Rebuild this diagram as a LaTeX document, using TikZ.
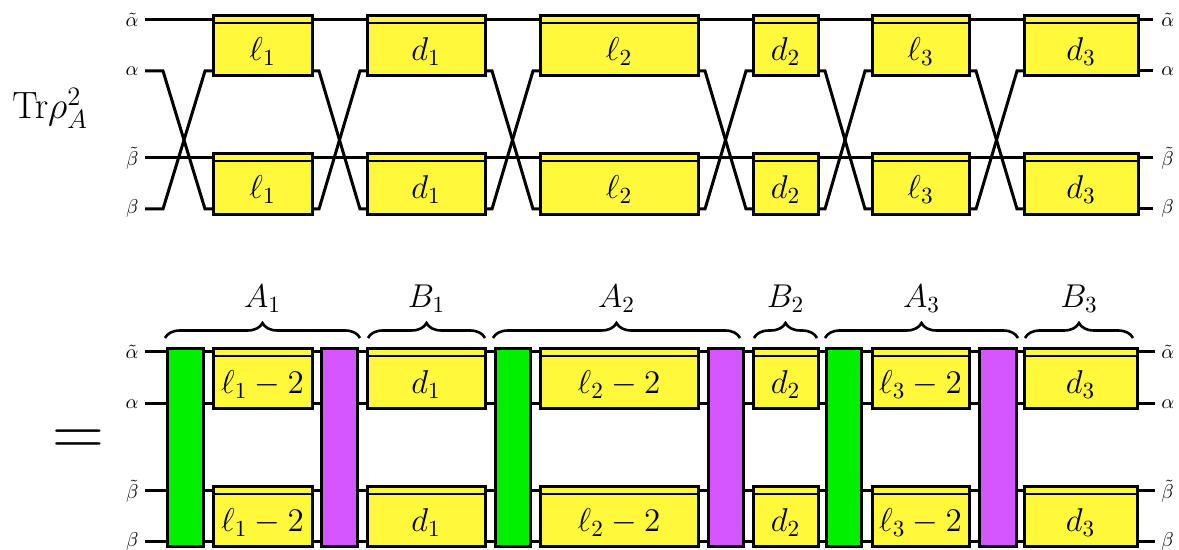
\documentclass[tikz,border=0pt]{standalone}
\usepackage{fix-cm}
\usepackage{graphicx}
\usetikzlibrary{decorations.pathreplacing}
\definecolor{yel}{RGB}{255,248,59}
\definecolor{grn}{RGB}{0,240,0}
\definecolor{prp}{RGB}{213,85,255}
\tikzset{
  wire/.style={line width=1.5pt},
  boxline/.style={draw=black,fill=yel,line width=1.5pt},
  sepline/.style={line width=1pt},
  barG/.style={draw=black,fill=grn,line width=1.5pt},
  barP/.style={draw=black,fill=prp,line width=1.5pt},
  lab/.style={inner sep=0pt,anchor=base,font=\fontsize{16.5}{18}\selectfont},
  wlab/.style={inner sep=0pt,font=\fontsize{10}{12}\selectfont},
  brc/.style={decorate,decoration={brace,amplitude=7.5pt},line width=1.3pt},
}
\newcommand\ybox[6]{%
  \draw[boxline] (#2,#4) rectangle (#3,#5);
  \draw[sepline] (#2,{#4+7.5}) -- (#3,{#4+7.5});
  \node[lab] (#1) at ({(#2+#3)/2},{#4+44.5}) {$#6$};
}
\begin{document}
\begin{tikzpicture}[x=0.5pt,y=-0.5pt]
\useasboundingbox (0,0) rectangle (1179,550);

% ---------- top panel ----------
\node[inner sep=0pt,anchor=base west,font=\fontsize{19}{21}\selectfont] (tr) at (12,119)
  {$\mathrm{Tr}\rho_A^2$};
\foreach \y/\t/\n in {20/\tilde\alpha/ta, 71/\alpha/a, 158/\tilde\beta/tb, 209/\beta/b}{
  \node[wlab,anchor=east] (L\n) at (139,\y) {$\t$};
  \node[wlab,anchor=west] (R\n) at (1161,\y) {$\t$};
}
\draw[wire] (145,20) -- (1153,20);
\draw[wire] (145,158) -- (1153,158);
% crossings
\draw[wire] (145,71) -- (163,71) -- (205,209) -- (213,209);
\draw[wire] (145,209) -- (163,209) -- (205,71) -- (213,71);
\foreach \a/\b in {312/367,485/540,698/753,818/872,969/1024}{
  \draw[wire] (\a,71) -- ({\a+7},71) -- ({\b-7},209) -- (\b,209);
  \draw[wire] (\a,209) -- ({\a+7},209) -- ({\b-7},71) -- (\b,71);
}
\draw[wire] (1138,71) -- (1153,71);
\draw[wire] (1138,209) -- (1153,209);
% boxes
\foreach \x/\X/\l/\n in {213/312/\ell_1/1,367/485/d_1/2,540/698/\ell_2/3,753/818/d_2/4,872/969/\ell_3/5,1024/1138/d_3/6}{
  \ybox{tu\n}{\x}{\X}{16}{76}{\l}
  \ybox{tl\n}{\x}{\X}{154}{215}{\l}
}

% ---------- bottom panel ----------
\node[inner sep=0pt] (eq) at (78,443) {\scalebox{1.2}{\fontsize{30}{30}\selectfont$=$}};
\foreach \y/\t/\n in {352/\tilde\alpha/ta, 404/\alpha/a, 491/\tilde\beta/tb, 542/\beta/b}{
  \node[wlab,anchor=east] (BL\n) at (139,\y) {$\t$};
  \node[wlab,anchor=west] (BR\n) at (1161,\y) {$\t$};
  \draw[wire] (145,\y) -- (1155,\y);
}
\foreach \x/\X/\l/\n in {213/312/\ell_1-2/1,367/485/d_1/2,540/698/\ell_2-2/3,753/818/d_2/4,872/969/\ell_3-2/5,1024/1137/d_3/6}{
  \ybox{bu\n}{\x}{\X}{349}{409}{\l}
  \ybox{bl\n}{\x}{\X}{487}{547}{\l}
}
\foreach \x/\X in {167/203,495/530,826/861}{
  \draw[barG] (\x,349) rectangle (\X,547);
}
\foreach \x/\X in {321/357,708/743,979/1016}{
  \draw[barP] (\x,349) rectangle (\X,547);
}
% braces
\foreach \x/\X/\l/\n in {165/360/A_1/1,368/485/B_1/2,493/740/A_2/3,754/817/B_2/4,825/1018/A_3/5,1025/1133/B_3/6}{
  \draw[brc] (\x,338) -- (\X,338);
  \node[lab] (br\n) at ({(\x+\X)/2},308) {$\l$};
}
\end{tikzpicture}
\end{document}
